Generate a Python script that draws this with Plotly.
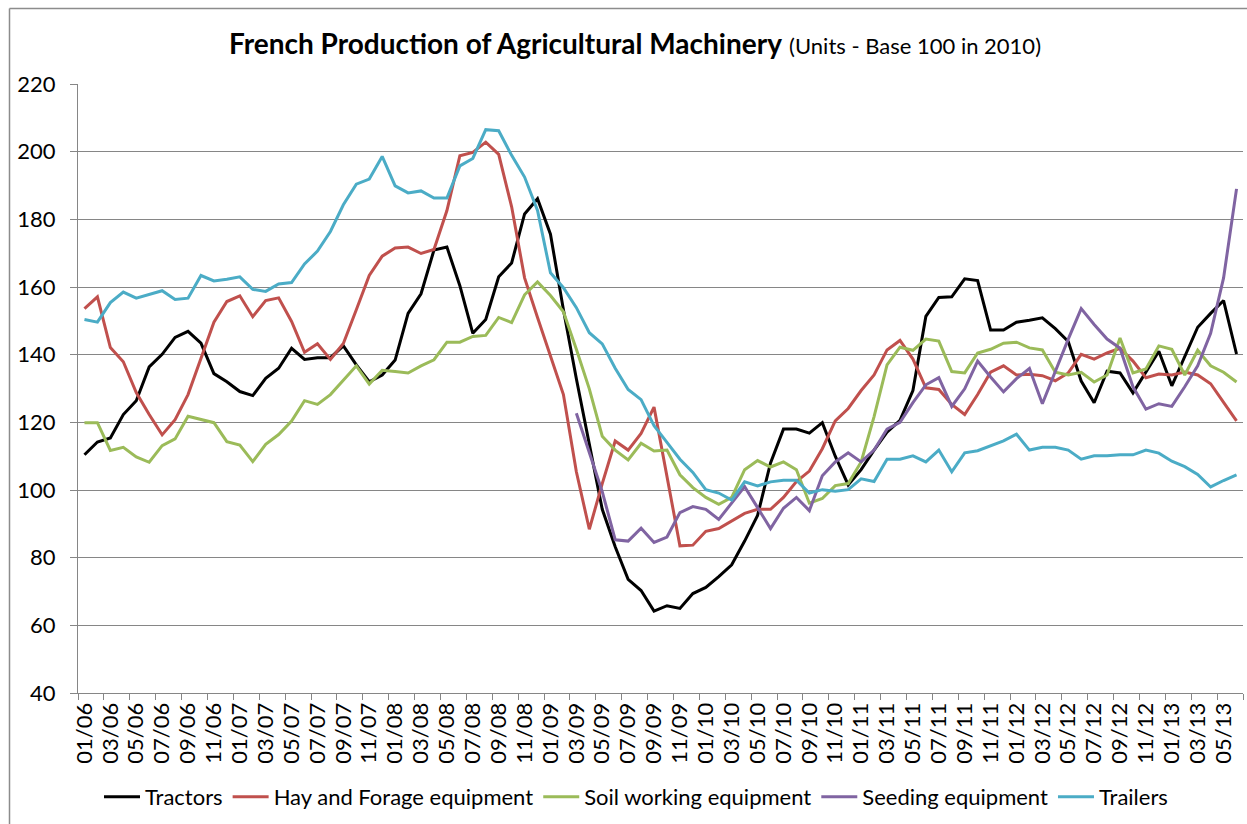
import plotly.graph_objects as go

# Monthly index 0 = 01/06 ... 89 = 06/13
tick_labels = ["01/06","03/06","05/06","07/06","09/06","11/06",
               "01/07","03/07","05/07","07/07","09/07","11/07",
               "01/08","03/08","05/08","07/08","09/08","11/08",
               "01/09","03/09","05/09","07/09","09/09","11/09",
               "01/10","03/10","05/10","07/10","09/10","11/10",
               "01/11","03/11","05/11","07/11","09/11","11/11",
               "01/12","03/12","05/12","07/12","09/12","11/12",
               "01/13","03/13","05/13"]
tick_positions = list(range(0, 90, 2))
months = list(range(90))

tractors = [110.4,114.2,115.4,122.3,126.4,136.4,140.1,145.1,146.9,143.4,134.4,132.0,129.1,127.9,133.0,
            136.0,141.9,138.6,139.1,139.1,142.6,137.0,132.0,134.0,138.4,152.2,158.0,170.9,171.8,160.4,
            146.3,150.4,163.0,167.1,181.6,186.1,175.6,153.3,132.9,113.6,94.3,83.2,73.6,70.3,64.2,
            65.8,65.0,69.4,71.2,74.4,77.9,84.9,92.5,108.0,118.0,118.0,116.8,119.9,110.0,101.5,
            106.0,111.8,117.1,120.6,129.4,151.3,156.9,157.1,162.4,161.9,147.3,147.3,149.6,150.2,150.9,
            147.7,143.9,132.2,125.8,135.1,134.6,128.7,134.8,141.0,130.8,139.3,148.1,152.2,156.0,140.2]

hay_forage = [153.6,157.1,142.1,137.9,128.8,122.3,116.3,120.8,128.2,138.7,149.6,155.7,157.4,151.2,156.0,
              156.8,149.8,140.7,143.2,138.6,143.3,153.3,163.4,169.1,171.5,171.8,169.9,171.1,182.6,198.8,
              199.8,202.8,199.2,183.7,162.7,151.0,139.3,128.2,105.4,88.4,101.9,114.5,111.8,116.7,124.5,
              104.0,83.5,83.7,87.8,88.6,90.8,93.1,94.3,94.3,97.8,102.5,105.6,112.2,120.4,124.1,
              129.4,134.0,141.4,144.2,138.7,130.2,129.7,125.3,122.3,128.2,134.8,136.7,134.0,134.2,133.8,
              132.3,134.6,140.1,138.7,140.5,141.9,138.1,133.2,134.3,134.0,134.9,134.0,131.4,125.9,120.4]

soil_working = [119.9,119.9,111.7,112.6,109.8,108.2,113.1,115.1,121.8,120.8,119.9,114.3,113.3,108.4,113.5,
                116.4,120.4,126.4,125.3,128.2,132.3,136.7,131.3,135.4,135.0,134.6,136.7,138.5,143.7,143.7,
                145.4,145.7,151.0,149.5,157.7,161.5,157.5,152.7,141.6,129.9,115.9,111.8,108.9,113.8,111.5,
                111.8,104.5,100.7,97.8,95.8,97.8,106.0,108.7,106.8,108.3,106.0,96.1,97.5,101.3,101.9,
                108.3,121.7,137.0,142.2,141.3,144.6,144.0,135.0,134.6,140.5,141.6,143.4,143.7,142.0,141.4,
                134.8,134.0,134.8,131.9,134.0,144.9,134.6,135.8,142.6,141.6,134.0,141.3,136.7,134.8,131.9]

seeding = [None]*38 + [122.7,111.2,99.5,85.3,84.9,88.7,84.5,
           86.1,93.3,95.1,94.3,91.3,96.2,101.0,94.8,88.6,94.6,97.8,93.9,104.2,108.3,111.0,
           108.3,111.8,118.0,120.0,125.8,131.1,133.2,124.7,129.9,138.1,133.4,129.0,132.9,135.9,125.5,
           135.2,144.6,153.6,148.9,144.6,141.9,130.5,123.9,125.5,124.7,130.5,136.7,146.3,162.7,189.0]

trailers = [150.4,149.6,155.4,158.5,156.7,157.9,158.9,156.3,156.7,163.4,161.8,162.3,163.0,159.3,158.7,
            160.9,161.3,166.8,170.6,176.4,184.3,190.4,191.9,198.6,189.9,187.8,188.4,186.3,186.3,195.8,
            198.0,206.5,206.2,198.9,192.5,182.6,164.2,159.8,153.9,146.5,143.2,136.0,129.7,126.7,119.0,
            114.1,109.1,105.2,100.1,99.1,97.0,102.4,101.2,102.4,102.9,102.9,99.1,100.1,99.6,100.1,
            103.3,102.5,109.1,109.1,110.1,108.3,111.8,105.4,111.0,111.6,113.0,114.5,116.5,111.8,112.6,
            112.6,111.8,109.1,110.1,110.1,110.4,110.4,111.8,110.9,108.5,106.9,104.6,100.9,102.8,104.5]

series = [
    ("Tractors", tractors, "#000000"),
    ("Hay and Forage equipment", hay_forage, "#C0504D"),
    ("Soil working equipment", soil_working, "#9BBB59"),
    ("Seeding equipment", seeding, "#8064A2"),
    ("Trailers", trailers, "#4BACC6"),
]

FONT = "Lato"
GRID = "#868686"

fig = go.Figure()
for name, vals, color in series:
    fig.add_trace(go.Scatter(x=months, y=vals, mode="lines", name=name,
                             line=dict(color=color, width=3), connectgaps=False))

W, H = 1247, 824
L, R, T, B = 78, 4, 84, 131
pw, ph = W - L - R, H - T - B

fig.update_layout(
    width=W, height=H,
    margin=dict(l=L, r=R, t=T, b=B, autoexpand=False),
    paper_bgcolor="white", plot_bgcolor="white",
    font=dict(family=FONT, color="#000000", size=22),
    title=dict(
        text="<b>French Production of Agricultural Machinery</b> "
             "<span style='font-size:22px'>(Units - Base 100 in 2010)</span>",
        x=635 / W, xanchor="center", xref="container",
        y=1 - 44 / H, yanchor="middle", yref="container",
        font=dict(family=FONT, size=28, color="#000000"),
    ),
    showlegend=True,
    legend=dict(orientation="h", x=636 / W, xanchor="center", xref="container",
                y=1 - 797 / H, yanchor="middle", yref="container",
                font=dict(family=FONT, size=22), itemwidth=36,
                traceorder="normal"),
    xaxis=dict(
        range=[-0.5, 89.5], tickmode="array", tickvals=tick_positions, ticktext=tick_labels,
        tickangle=-90, ticks="", showgrid=False, zeroline=False,
        showline=True, linecolor=GRID, linewidth=1,
        tickfont=dict(family=FONT, size=22),
        minor=dict(tickmode="linear", tick0=-0.5, dtick=2, ticks="outside",
                   ticklen=6, tickcolor=GRID, tickwidth=1, showgrid=False),
    ),
    yaxis=dict(
        range=[40, 220], tickmode="linear", tick0=40, dtick=20,
        showgrid=True, gridcolor=GRID, gridwidth=1, zeroline=False,
        showline=True, linecolor=GRID, linewidth=1,
        ticks="outside", ticklen=7, tickcolor=GRID,
        ticklabelstandoff=10,
        tickfont=dict(family=FONT, size=22),
    ),
)

# chart area border: left and top edges of the outer frame
bx0, by0 = 9.5, 8.5
fig.add_shape(type="line", xref="paper", yref="paper",
              x0=(bx0 - L) / pw, x1=(bx0 - L) / pw,
              y0=-(H - T - ph) / ph, y1=1 + (T - by0) / ph,
              line=dict(color="#8C8C8C", width=1.5), layer="above")
fig.add_shape(type="line", xref="paper", yref="paper",
              x0=(bx0 - L) / pw, x1=(W - L) / pw,
              y0=1 + (T - by0) / ph, y1=1 + (T - by0) / ph,
              line=dict(color="#8C8C8C", width=1.5), layer="above")

fig.write_html("out.html", config={"displayModeBar": False},
               post_script="document.body.style.margin='0';document.body.style.overflow='hidden';")
